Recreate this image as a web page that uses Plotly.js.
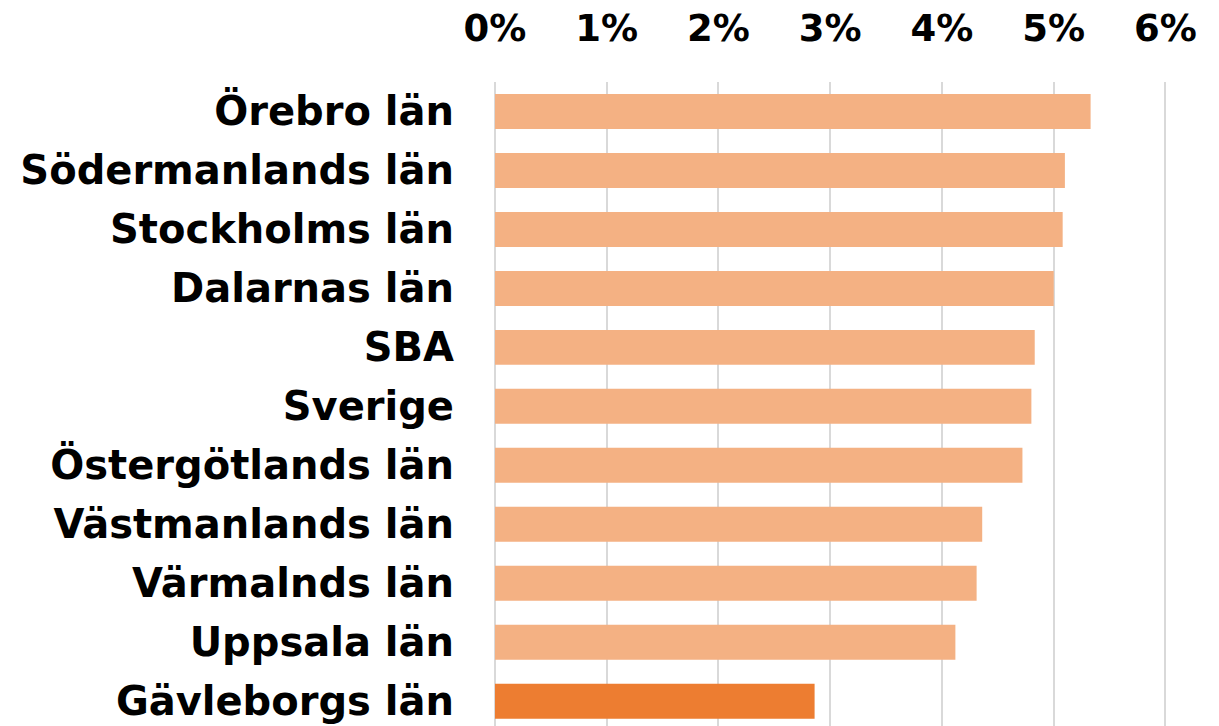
<!DOCTYPE html>
<html>
<head>
<meta charset="utf-8">
<script src="https://cdn.plot.ly/plotly-3.0.1.min.js"></script>
<style>html,body{margin:0;padding:0;overflow:hidden;background:#fff}</style>
</head>
<body>
<div id="chart" style="width:1219px;height:726px"></div>
<script>
const categories = ["Örebro län","Södermanlands län","Stockholms län","Dalarnas län","SBA","Sverige","Östergötlands län","Västmanlands län","Värmalnds län","Uppsala län","Gävleborgs län"];
const values = [0.0533,0.0510,0.0508,0.0500,0.0483,0.0480,0.0472,0.0436,0.0431,0.0412,0.0286];
const highlight = "Gävleborgs län";
const colors = categories.map(c => c === highlight ? "#ED7D31" : "#F4B183");

const font = {family: "DejaVu Sans, sans-serif", weight: 700, color: "#000000"};

Plotly.newPlot("chart", [{
  type: "bar",
  orientation: "h",
  y: categories,
  x: values,
  marker: {color: colors},
  hoverinfo: "none"
}], {
  width: 1219, height: 726,
  margin: {l: 495, r: 39, t: 82, b: 0, pad: 0},
  paper_bgcolor: "#ffffff", plot_bgcolor: "#ffffff",
  bargap: 0.407,
  showlegend: false,
  xaxis: {
    side: "top",
    range: [0, 0.0613],
    dtick: 0.01,
    tick0: 0,
    tickformat: ".0%",
    showgrid: true,
    gridcolor: "#d9d9d9",
    gridwidth: 2,
    zeroline: true,
    zerolinecolor: "#d9d9d9",
    zerolinewidth: 2,
    showline: false,
    ticks: "",
    ticklabelstandoff: 33,
    tickfont: Object.assign({size: 37}, font),
    automargin: false
  },
  yaxis: {
    type: "category",
    range: [10.42, -0.5],
    showgrid: false,
    zeroline: false,
    showline: false,
    ticks: "",
    ticklabelstandoff: 40,
    tickfont: Object.assign({size: 40}, font),
    automargin: false
  }
}, {displayModeBar: false, staticPlot: true});
</script>
</body>
</html>
